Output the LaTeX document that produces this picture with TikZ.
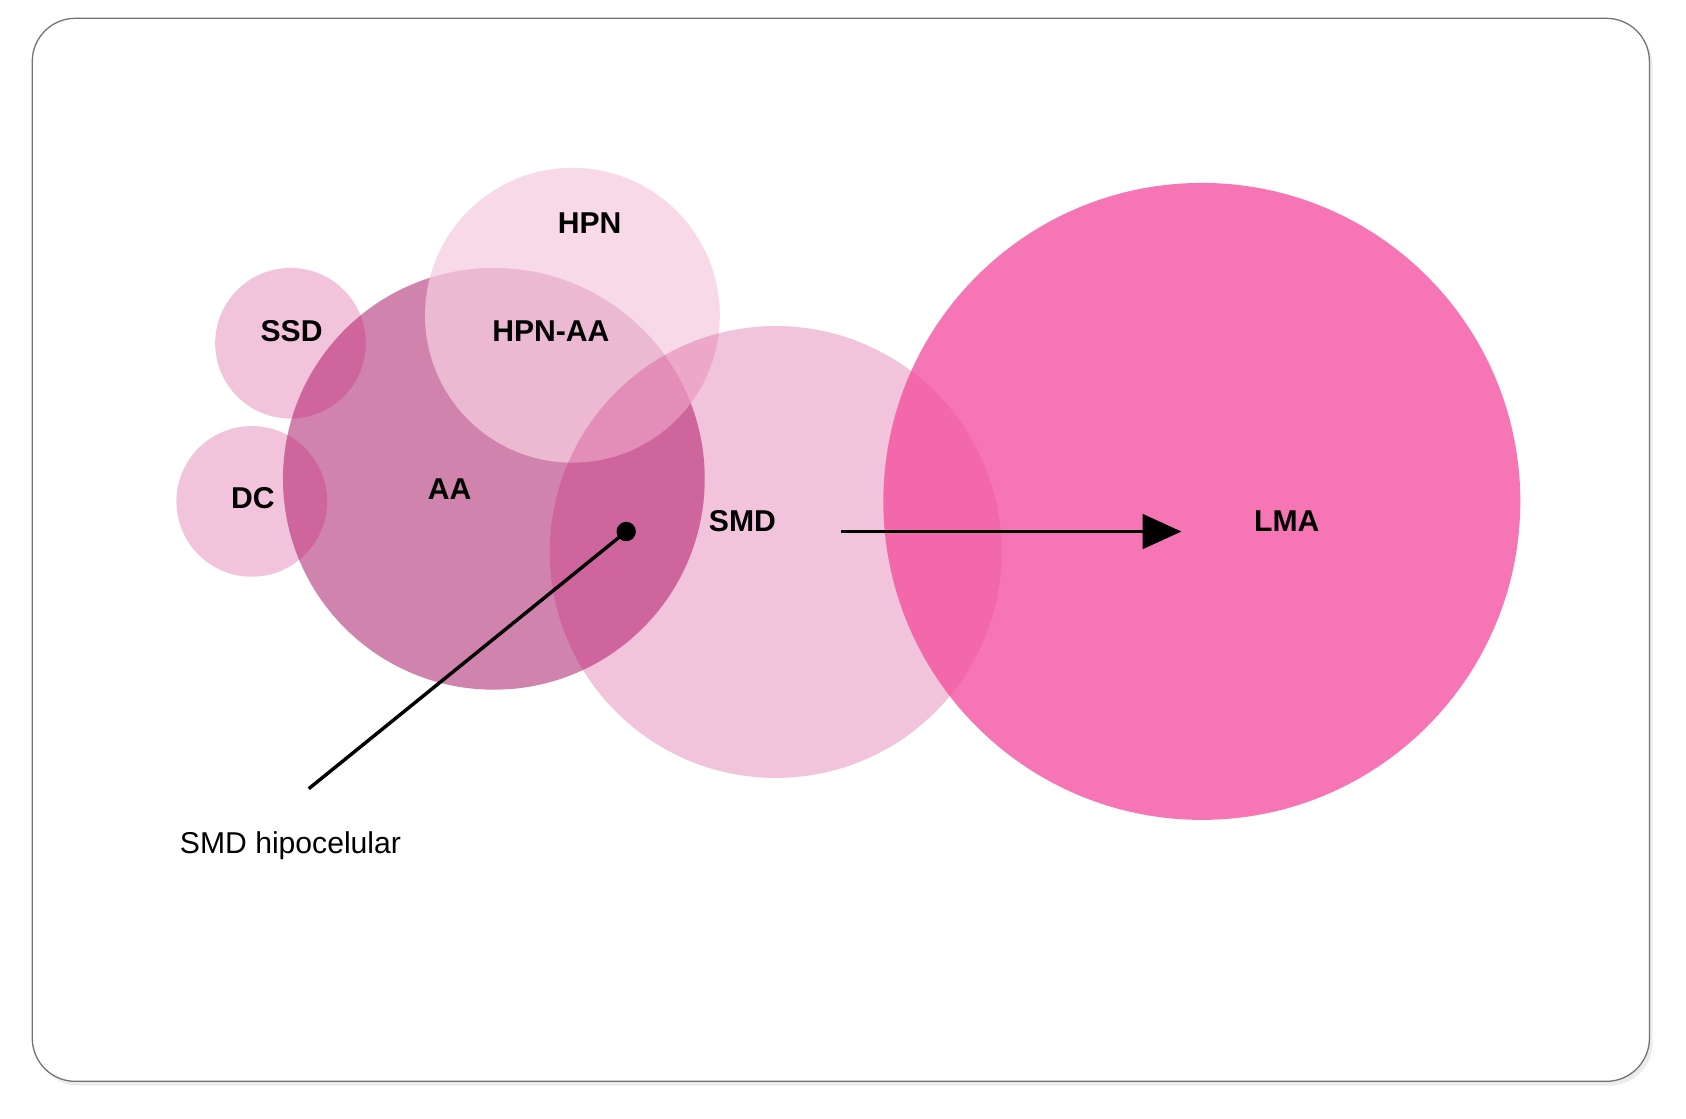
\documentclass[tikz,border=0pt]{standalone}
\usepackage{fontspec}
\setmainfont{Liberation Sans}
\usetikzlibrary{arrows.meta,shadows}
\definecolor{aac}{HTML}{BD4F8A}
\definecolor{hpnc}{HTML}{F6CCE0}
\definecolor{smc}{HTML}{C8096A}
\definecolor{lmac}{HTML}{F4489C}
\begin{document}
\begin{tikzpicture}[x=0.5pt,y=-0.5pt,
  lbl/.style={font=\bfseries\fontsize{14}{16}\selectfont},
  blob/.style={circle,inner sep=0pt,draw=none}]
\useasboundingbox (0,0) rectangle (1567,1040);
\node[draw=black!55,line width=0.6pt,rounded corners=20pt,fill=white,
  drop shadow={shadow xshift=1.5pt,shadow yshift=-2pt,opacity=0.15},
  minimum width=751.5pt,minimum height=494pt] (frame) at (781.5,511) {};
\node[blob,fill=aac,fill opacity=0.7,minimum size=196pt] (aa) at (459,445) {};
\node[blob,fill=hpnc,fill opacity=0.74,minimum size=137pt] (hpn) at (532,293) {};
\node[blob,fill=smc,fill opacity=0.24,minimum size=70pt] (ssd) at (270,319) {};
\node[blob,fill=smc,fill opacity=0.24,minimum size=70pt] (dc) at (234,466) {};
\node[blob,fill=smc,fill opacity=0.24,minimum size=210pt] (smd) at (721,513) {};
\node[blob,fill=lmac,fill opacity=0.75,minimum size=296pt] (lma) at (1117,466) {};
\node[lbl] (thpn) at (548,207) {HPN};
\node[lbl] (tssd) at (271,308) {SSD};
\node[lbl] (thpnaa) at (512,308) {HPN-AA};
\node[lbl] (tdc) at (235,463) {DC};
\node[lbl] (taa) at (418,455) {AA};
\node[lbl] (tsmd) at (690,484) {SMD};
\node[lbl] (tlma) at (1196,484) {LMA};
\node[font=\fontsize{14}{16}\selectfont] (hipo) at (270,786) {SMD hipocelular};
\node[circle,fill=black,inner sep=0pt,minimum size=9pt] (dot) at (582,494) {};
\coordinate (lend) at (287,733);
\coordinate (astart) at (782,494);
\coordinate (aend) at (1098,494);
\draw[line width=1.6pt] (dot.center) -- (lend);
\draw[line width=1.6pt,-{Triangle[length=18pt,width=16pt]}] (astart) -- (aend);
\end{tikzpicture}
\end{document}
